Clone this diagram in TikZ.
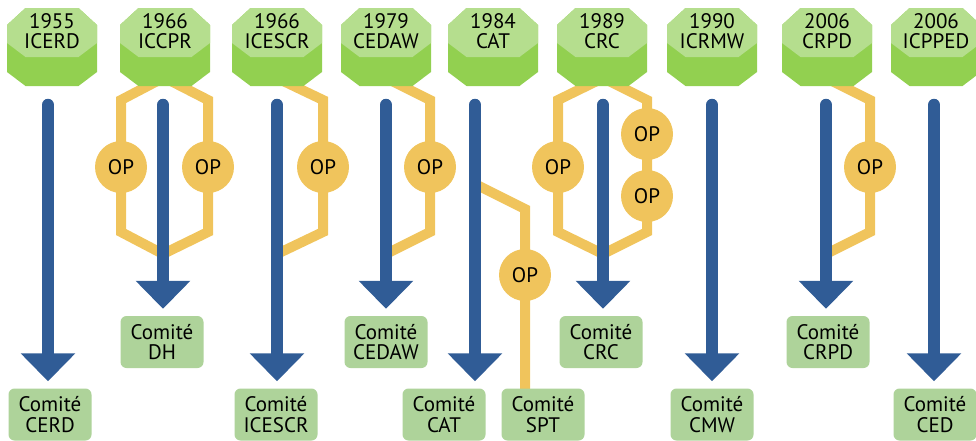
\documentclass[tikz,border=0pt]{standalone}
\usepackage{fontspec}
\setmainfont{PT Sans}
\usetikzlibrary{arrows.meta,backgrounds}
\definecolor{octlight}{HTML}{B5DE8E}
\definecolor{octdark}{HTML}{92D050}
\definecolor{opcol}{HTML}{F0C45C}
\definecolor{shaftcol}{HTML}{305C96}
\definecolor{boxcol}{HTML}{AED39A}
\begin{document}
\begin{tikzpicture}[x=1pt,y=-1pt,
  lbl/.style={font=\fontsize{21}{20.5}\selectfont, align=center, inner sep=0pt},
  comite/.style={lbl, fill=boxcol, rounded corners=6pt, minimum width=83pt, minimum height=52pt},
  opnode/.style={lbl, circle, fill=opcol, minimum size=52pt},
  opline/.style={draw=opcol, line width=10pt},
  flow/.style={draw=shaftcol, line width=12.5pt, line cap=round, -{Triangle[width=53pt,length=28pt]}, shorten >=7pt},
  pics/octa/.style={code={
     \fill[octdark] (-26.5,-39) -- (26.5,-39) -- (45,-22) -- (45,25) -- (26.5,39) -- (-26.5,39) -- (-45,25) -- (-45,-22) -- cycle;
     \fill[octlight] (-26.5,-39) -- (26.5,-39) -- (45,-22) -- (45,-4) -- (26.5,10) -- (-26.5,10) -- (-45,-4) -- (-45,-22) -- cycle;
  }}
]
\useasboundingbox (0,0) rectangle (976,440);

% treaty octagons
\foreach \cx in {52,165,277,386,493,602,712,827,936}
  \pic at (\cx,47) {octa};
\node[lbl] (o1) at (52,31) {1955\\ICERD};
\node[lbl] (o2) at (165,31) {1966\\ICCPR};
\node[lbl] (o3) at (277,31) {1966\\ICESCR};
\node[lbl] (o4) at (386,31) {1979\\CEDAW};
\node[lbl] (o5) at (493,31) {1984\\CAT};
\node[lbl] (o6) at (602,31) {1989\\CRC};
\node[lbl] (o7) at (712,31) {1990\\ICRMW};
\node[lbl] (o8) at (827,31) {2006\\CRPD};
\node[lbl] (o9) at (936,31) {2006\\ICPPED};

% committees
\node[comite] (b1) at (50,414.5) {Comité\\CERD};
\node[comite] (b2) at (162,342) {Comité\\DH};
\node[comite] (b3) at (276,414.5) {Comité\\ICESCR};
\node[comite] (b4) at (386,342) {Comité\\CEDAW};
\node[comite] (b5) at (444,414.5) {Comité\\CAT};
\node[comite] (b5s) at (543,414.5) {Comité\\SPT};
\node[comite] (b6) at (601,342) {Comité\\CRC};
\node[comite] (b7) at (712,414.5) {Comité\\CMW};
\node[comite] (b8) at (828,342) {Comité\\CRPD};
\node[comite] (b9) at (935,414.5) {Comité\\CED};

% optional protocols
\node[opnode] (p2a) at (121,167) {OP};
\node[opnode] (p2b) at (208,167) {OP};
\node[opnode] (p3) at (323,167) {OP};
\node[opnode] (p4) at (430,167) {OP};
\node[opnode] (p5) at (525,275) {OP};
\node[opnode] (p6a) at (558,167) {OP};
\node[opnode] (p6b) at (647,134) {OP};
\node[opnode] (p6c) at (647,196) {OP};
\node[opnode] (p8) at (870,167) {OP};

% shaft starts
\coordinate (a1) at (48,105);
\coordinate (a2) at (163,105);
\coordinate (a3) at (277,105);
\coordinate (a4) at (386,105);
\coordinate (a5) at (475,105);
\coordinate (a6) at (603,105);
\coordinate (a7) at (712,105);
\coordinate (a8) at (826,105);
\coordinate (a9) at (934,105);

\begin{scope}[on background layer]
\draw[opline] (163,78) -- (121,100) -- (p2a.center) -- (121,232) -- (163,254);
\draw[opline] (165,78) -- (208,100) -- (p2b.center) -- (208,232) -- (163,254);
\draw[opline] (277,78) -- (323,100) -- (p3.center) -- (323,232) -- (277,254);
\draw[opline] (386,78) -- (430,100) -- (p4.center) -- (430,232) -- (386,254);
\draw[opline] (475,184) -- (525,209) -- (p5.center) -- (p5.center |- b5s.center);
\draw[opline] (603,78) -- (558,100) -- (p6a.center) -- (558,232) -- (603,254);
\draw[opline] (603,78) -- (647,100) -- (p6b.center) -- (p6c.center) -- (647,232) -- (603,254);
\draw[opline] (826,78) -- (870,100) -- (p8.center) -- (870,232) -- (826,254);
\end{scope}

% flows
\draw[flow] (a1) -- (a1 |- b1.north);
\draw[flow] (a2) -- (a2 |- b2.north);
\draw[flow] (a3) -- (a3 |- b3.north);
\draw[flow] (a4) -- (a4 |- b4.north);
\draw[flow] (a5) -- (a5 |- b5.north);
\draw[flow] (a6) -- (a6 |- b6.north);
\draw[flow] (a7) -- (a7 |- b7.north);
\draw[flow] (a8) -- (a8 |- b8.north);
\draw[flow] (a9) -- (a9 |- b9.north);
\end{tikzpicture}
\end{document}
